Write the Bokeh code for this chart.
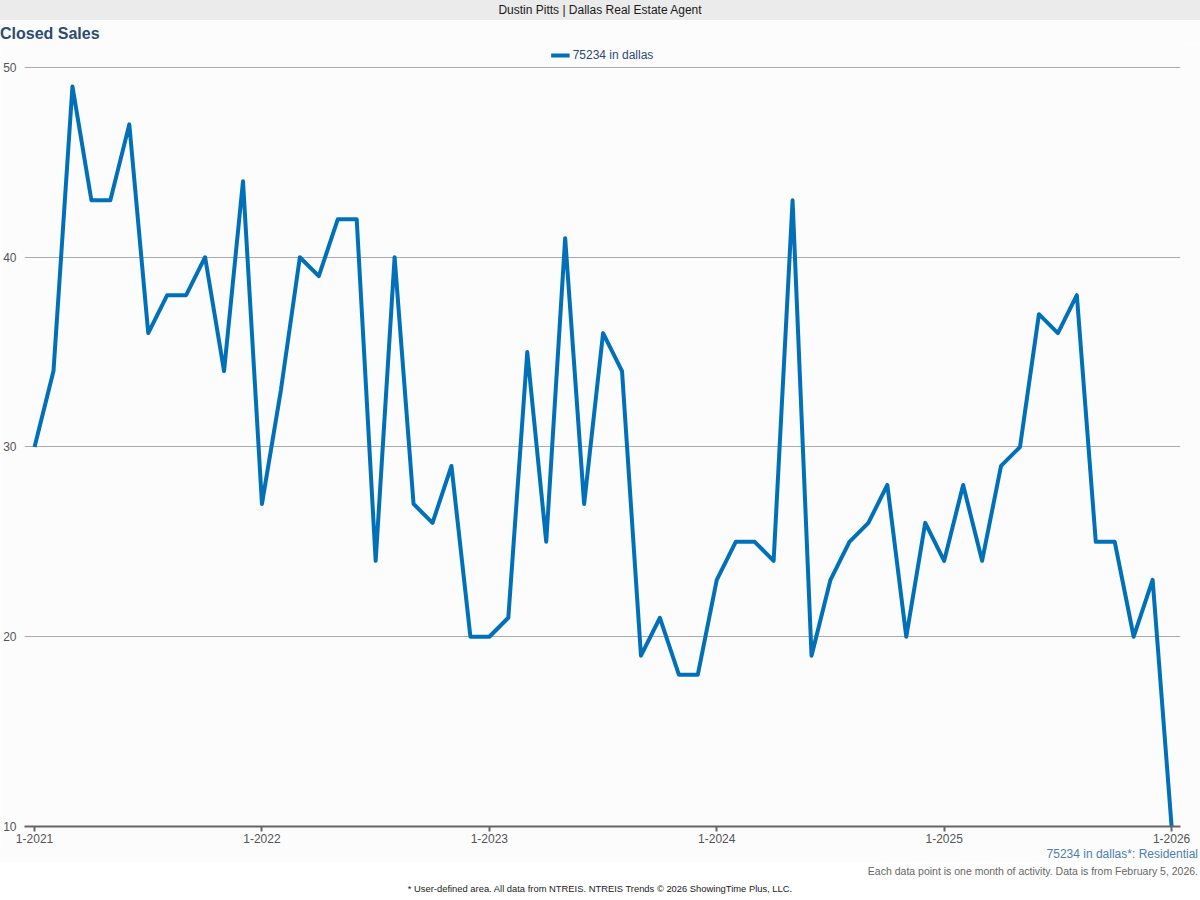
from bokeh.plotting import figure
from bokeh.models import FixedTicker, Range1d, Div, Legend, LegendItem
from bokeh.layouts import column
from bokeh.embed import file_html
from bokeh.resources import INLINE

# ---- data ----
months = [f"{m}-{y}" for y in range(2021, 2026) for m in range(1, 13)] + ["1-2026"]
closed_sales = [30, 34, 49, 43, 43, 47, 36, 38, 38, 40, 34, 44,
                27, 33, 40, 39, 42, 42, 24, 40, 27, 26, 29, 20,
                20, 21, 35, 25, 41, 27, 36, 34, 19, 21, 18, 18,
                23, 25, 25, 24, 43, 19, 23, 25, 26, 28, 20, 26,
                24, 28, 24, 29, 30, 37, 36, 38, 25, 25, 20, 23,
                10]
tick_labels = ["1-2021", "1-2022", "1-2023", "1-2024", "1-2025", "1-2026"]
y_ticks = [10, 20, 30, 40, 50]
series_name = "75234 in dallas"
chart_title = "Closed Sales"
header_text = "Dustin Pitts | Dallas Real Estate Agent"
footer_series = series_name + "*: Residential"
footer_note = "Each data point is one month of activity. Data is from February 5, 2026."
footer_source = "* User-defined area. All data from NTREIS. NTREIS Trends \u00a9 2026 ShowingTime Plus, LLC."

FONT = "'Liberation Sans', Arial, sans-serif"
LINE_COLOR = "#0071b9"
PANEL_BG = "#fcfcfc"
W = 1200

x = list(range(len(closed_sales)))
tick_pos = [months.index(t) for t in tick_labels]


def make_div(text, height, size, color, align, bg, weight="normal", line_height=None, pad_right=0):
    lh = line_height if line_height else height
    inner = (f'<div style="width:{W - pad_right}px;height:{height}px;line-height:{lh}px;'
             f'font-family:{FONT};font-size:{size};color:{color};text-align:{align};'
             f'font-weight:{weight};white-space:nowrap;padding-right:{pad_right}px;">{text}</div>')
    return Div(text=inner, width=W, height=height,
               styles={"background-color": bg, "margin": "0", "padding": "0",
                       "overflow": "hidden"})


header = make_div(header_text, 20, "12px", "#1a1a1a", "center", "#ebebeb", line_height=21)
title = make_div(chart_title, 24, "16px", "#2b4c74", "left", PANEL_BG, weight="bold", line_height=28)

p = figure(width=W, height=802, output_backend="svg", toolbar_location=None,
           x_range=Range1d(-0.53, 60.47), y_range=Range1d(10, 51.21),
           min_border_left=24, min_border_right=20, min_border_top=0, min_border_bottom=20)
p.title.visible = False
p.outline_line_color = None
p.background_fill_color = PANEL_BG
p.border_fill_color = PANEL_BG

r = p.line(x, closed_sales, line_color=LINE_COLOR, line_width=4, line_join="round")

# axes
p.xaxis.ticker = FixedTicker(ticks=tick_pos)
p.xaxis.major_label_overrides = {pos: lab for pos, lab in zip(tick_pos, tick_labels)}
p.xaxis.axis_line_color = "#666666"
p.xaxis.axis_line_width = 2
p.xaxis.major_tick_line_color = "#666666"
p.xaxis.major_tick_line_width = 2
p.xaxis.major_tick_out = 5
p.xaxis.major_tick_in = 0
p.xaxis.minor_tick_line_color = None
p.xaxis.major_label_text_font = "Liberation Sans"
p.xaxis.major_label_text_font_size = "12px"
p.xaxis.major_label_text_color = "#555555"
p.xaxis.major_label_standoff = 2

p.yaxis.ticker = FixedTicker(ticks=y_ticks)
p.yaxis.axis_line_color = None
p.yaxis.major_tick_line_color = None
p.yaxis.major_tick_out = 0
p.yaxis.major_tick_in = 0
p.yaxis.minor_tick_line_color = None
p.yaxis.major_label_text_font = "Liberation Sans"
p.yaxis.major_label_text_font_size = "12px"
p.yaxis.major_label_text_color = "#555555"
p.yaxis.major_label_standoff = 8

p.xgrid.grid_line_color = None
p.ygrid.grid_line_color = "#aaaaaa"
p.ygrid.grid_line_width = 1

legend = Legend(items=[LegendItem(label=series_name, renderers=[r])],
                location="top_center", orientation="horizontal",
                border_line_color=None, background_fill_alpha=0,
                margin=4, padding=0, spacing=0,
                glyph_width=19, glyph_height=14, label_height=14, label_standoff=3,
                label_text_font="Liberation Sans", label_text_font_size="12px",
                label_text_color="#2b4c74")
p.add_layout(legend)

foot1 = make_div(footer_series, 16, "12px", "#4f7db0", "right", PANEL_BG, pad_right=1)
foot2 = make_div(footer_note, 18, "10.5px", "#666666", "right", "#ffffff", pad_right=1)
foot3 = make_div(footer_source, 18, "9.4px", "#222222", "center", "#ffffff")

layout = column(header, title, p, foot1, foot2, foot3, spacing=0)
open("out.html", "w").write(file_html(layout, INLINE))
